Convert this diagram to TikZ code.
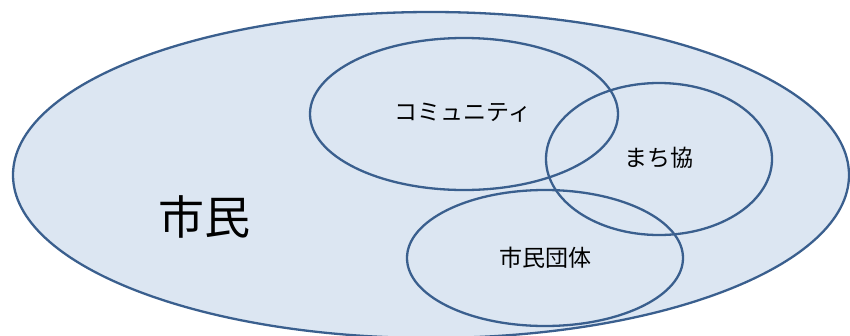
\documentclass[tikz,border=0pt]{standalone}
\usepackage{fontspec}
\newfontfamily\cjk{Noto Sans CJK JP}
\definecolor{fillblue}{HTML}{DCE6F2}
\definecolor{lineblue}{HTML}{3A5F8E}
\begin{document}
\begin{tikzpicture}[x=1pt,y=-1pt,
  ell/.style={draw=lineblue,line width=2.3pt},
  lbl/.style={font=\cjk\fontsize{23}{23}\selectfont,text=black,inner sep=0pt}]
\useasboundingbox (0,0) rectangle (850,335);
\clip (0,0) rectangle (850,335);
\fill[white] (0,0) rectangle (850,335);
\draw[ell,fill=fillblue] (431,175) ellipse [x radius=418, y radius=163];
\draw[ell] (464,114) ellipse [x radius=154, y radius=76];
\draw[ell] (659,159) ellipse [x radius=113, y radius=76];
\draw[ell] (545,258) ellipse [x radius=138, y radius=68];
\node[lbl,font=\cjk\fontsize{46}{46}\selectfont] (shimin) at (204,217) {市民};
\node[lbl] (comm) at (463,113) {コミュニティ};
\node[lbl] (machi) at (659,158) {まち協};
\node[lbl] (dantai) at (545,258) {市民団体};
\end{tikzpicture}
\end{document}
